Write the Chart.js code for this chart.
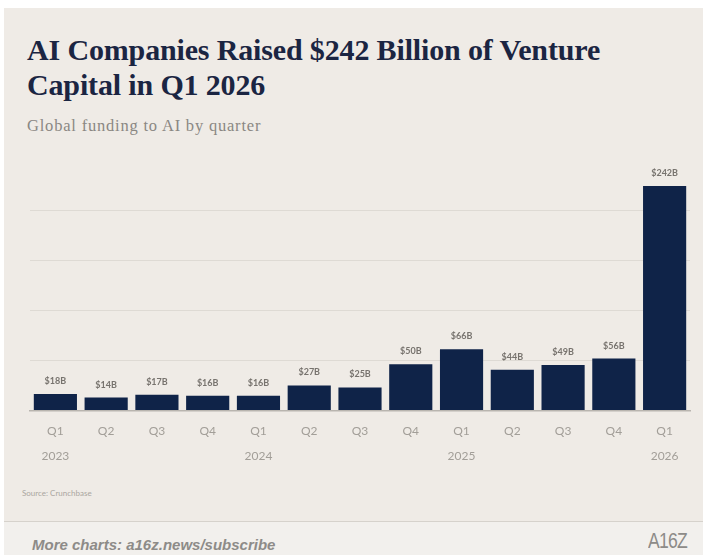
<!DOCTYPE html>
<html>
<head>
<meta charset="utf-8">
<script src="https://cdn.jsdelivr.net/npm/chart.js@4.4.1/dist/chart.umd.min.js"></script>
<style>
  html, body { margin: 0; padding: 0; background: #ffffff; }
  #page { position: relative; width: 703px; height: 555px; overflow: hidden; background: #ffffff; }
  #card { position: absolute; left: 4px; top: 8px; width: 699px; height: 513px; background: #efebe6; }
  #foot { position: absolute; left: 4px; top: 521px; width: 699px; height: 34px; background: #f2f0ed; border-top: 1px solid #d6d2cc; }
  #title { position: absolute; left: 27px; top: 32px; width: 670px; font-family: "Liberation Serif", serif; font-weight: bold; font-size: 30px; line-height: 35px; color: #1b2542; letter-spacing: -0.15px; white-space: nowrap; }
  #sub { position: absolute; left: 27px; top: 116px; font-family: "Liberation Serif", serif; font-size: 16.5px; line-height: 20px; color: #8a8783; letter-spacing: 0.8px; white-space: nowrap; }
  #src { position: absolute; left: 22px; top: 488px; font-family: "Lato", sans-serif; font-size: 8px; color: #aaa6a0; }
  #more { position: absolute; left: 32px; top: 536px; font-family: "Liberation Sans", sans-serif; font-style: italic; font-weight: bold; font-size: 15px; color: #8d8b88; }
  #logo { position: absolute; left: 648px; top: 528px; font-family: "Liberation Sans", sans-serif; font-size: 22px; color: #8d8b88; letter-spacing: -1px; transform: scaleX(0.8); transform-origin: left center; }
  #chart { position: absolute; left: 0; top: 0; }
</style>
</head>
<body>
<div id="page">
  <div id="card"></div>
  <div id="foot"></div>
  <div id="title">AI Companies Raised $242 Billion of Venture<br>Capital in Q1 2026</div>
  <div id="sub">Global funding to AI by quarter</div>
  <div id="src">Source: Crunchbase</div>
  <div id="more">More charts: a16z.news/subscribe</div>
  <div id="logo">A16Z</div>
  <canvas id="chart" width="703" height="555"></canvas>
</div>
<script>
// Quarterly global venture funding to AI, in billions of USD
const quarters = ['Q1', 'Q2', 'Q3', 'Q4', 'Q1', 'Q2', 'Q3', 'Q4', 'Q1', 'Q2', 'Q3', 'Q4', 'Q1'];
const years    = ['2023', '', '', '', '2024', '', '', '', '2025', '', '', '', '2026'];
const funding  = [18, 14, 17, 16, 16, 27, 25, 50, 66, 44, 49, 56, 242];

const axisMax = 270;
const gridStep = 54;

// Value labels printed above each bar
const barValueLabels = {
  id: 'barValueLabels',
  afterDatasetsDraw(chart) {
    const ctx = chart.ctx;
    const meta = chart.getDatasetMeta(0);
    ctx.save();
    ctx.font = 'bold 9px "Lato", sans-serif';
    ctx.fillStyle = '#77736e';
    ctx.textAlign = 'center';
    ctx.textBaseline = 'middle';
    meta.data.forEach((bar, i) => {
      ctx.fillText('$' + funding[i] + 'B', bar.x, bar.y - 13);
    });
    ctx.restore();
  }
};

new Chart(document.getElementById('chart'), {
  type: 'bar',
  data: {
    labels: quarters.map((q, i) => [q, years[i]]),
    datasets: [{
      data: funding,
      backgroundColor: '#0f2348',
      barPercentage: 0.85,
      categoryPercentage: 1
    }]
  },
  options: {
    responsive: false,
    animation: false,
    events: [],
    layout: { padding: { left: 30, right: 13, top: 160, bottom: 86 } },
    plugins: { legend: { display: false }, tooltip: { enabled: false } },
    scales: {
      x: {
        grid: { display: false },
        border: { display: true, color: '#b9b5af', width: 1.5 },
        ticks: {
          color: '#a29e98',
          font: { family: '"Lato", sans-serif', size: 12, lineHeight: 2.1 },
          maxRotation: 0,
          autoSkip: false,
          padding: 0
        }
      },
      y: {
        min: 0,
        max: axisMax,
        ticks: { display: false, stepSize: gridStep },
        border: { display: false },
        grid: {
          drawTicks: false,
          color: (c) => (c.tick.value === 0 || c.tick.value === axisMax) ? 'rgba(0,0,0,0)' : '#dedad4',
          lineWidth: 1
        }
      }
    }
  },
  plugins: [barValueLabels]
});
</script>
</body>
</html>
